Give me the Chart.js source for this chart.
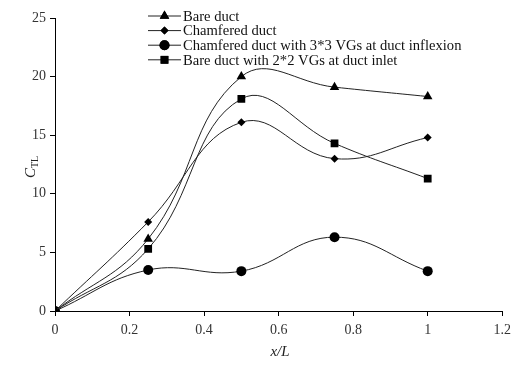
<!DOCTYPE html>
<html><head><meta charset="utf-8">
<script src="https://cdn.jsdelivr.net/npm/chart.js@4/dist/chart.umd.min.js"></script>
<style>html,body{margin:0;padding:0;background:#fff}#w{width:517px;height:370px}</style>
</head><body><div id="w"><canvas id="c" width="517" height="370"></canvas></div>
<script>
const xValues = [0, 0.25, 0.5, 0.75, 1];
const bareDuct = [0, 6.15, 20.0, 19.1, 18.3];
const chamferedDuct = [0, 7.6, 16.1, 13.0, 14.8];
const chamferedVG = [0, 3.5, 3.4, 6.3, 3.4];
const bareVG = [0, 5.3, 18.1, 14.3, 11.3];
const seriesLabels = ['Bare duct', 'Chamfered duct', 'Chamfered duct with 3*3 VGs at duct inflexion', 'Bare duct with 2*2 VGs at duct inlet'];
const xTicks = [0, 0.2, 0.4, 0.6, 0.8, 1, 1.2];
const yTicks = [0, 5, 10, 15, 20, 25];

const FONT = '"Liberation Serif", "DejaVu Serif", serif';
function mk(label, vals, style, r) {
  return {label, data: xValues.map((x,i)=>({x, y: vals[i]})), borderColor:'#222', borderWidth:1,
    pointStyle: style, pointRadius: r, pointHoverRadius: r, pointBackgroundColor:'#000', pointBorderColor:'#000',
    pointBorderWidth: 0, tension: 0.42, fill:false};
}
const datasets = [
  mk(seriesLabels[0], bareDuct, 'triangle', 5.5),
  mk(seriesLabels[1], chamferedDuct, 'rectRot', 4),
  mk(seriesLabels[2], chamferedVG, 'circle', 5),
  mk(seriesLabels[3], bareVG, 'rect', 5.5)
];

const legendPlugin = {
  id: 'vlegend',
  afterDraw(chart) {
    const ctx = chart.ctx;
    ctx.save();
    const x0 = 148, x1 = 181, y0 = 16, dy = 14.6;
    chart.data.datasets.forEach((ds, i) => {
      const y = y0 + i * dy;
      ctx.strokeStyle = '#222'; ctx.lineWidth = 1;
      ctx.beginPath(); ctx.moveTo(x0, y); ctx.lineTo(x1, y); ctx.stroke();
      ctx.fillStyle = '#000'; ctx.strokeStyle = '#000';
      Chart.helpers.drawPoint(ctx, {pointStyle: ds.pointStyle, radius: ds.pointRadius, borderWidth: 0}, (x0+x1)/2, y);
      ctx.fill();
      ctx.fillStyle = '#111';
      ctx.font = '14.6px ' + FONT;
      ctx.textBaseline = 'middle'; ctx.textAlign = 'left';
      ctx.fillText(ds.label, x1 + 2, y + 1);
    });
    // axis titles
    ctx.fillStyle = '#222';
    ctx.save();
    ctx.translate(31, 168);
    ctx.rotate(-Math.PI/2);
    ctx.textBaseline = 'middle'; ctx.textAlign = 'left';
    ctx.font = 'italic 15px ' + FONT;
    ctx.fillText('C', -10, 0);
    const w = ctx.measureText('C').width;
    ctx.font = '10px ' + FONT;
    ctx.fillText('TL', -10 + w, 4);
    ctx.restore();
    ctx.font = 'italic 15px ' + FONT;
    ctx.textAlign = 'center'; ctx.textBaseline = 'middle';
    ctx.fillText('x/L', 280, 352);
    ctx.restore();
  }
};

new Chart(document.getElementById('c'), {
  type: 'line',
  data: { datasets },
  options: {
    responsive: false, animation: false,
    layout: { padding: { top: 18, right: 12, left: 0, bottom: 0 } },
    plugins: { legend: { display: false }, tooltip: { enabled: false } },
    scales: {
      x: {
        type: 'linear', min: 0, max: 1.2,
        afterBuildTicks(s) { s.ticks = xTicks.map(v => ({value: v})); },
        afterFit(s) { s.height = 59; },
        grid: { display: true, drawOnChartArea: false, drawTicks: true, tickLength: 5, color: '#000' },
        border: { display: true, color: '#000', width: 1 },
        ticks: { color: '#333', font: { family: FONT, size: 14 }, padding: 6, maxRotation: 0,
          callback: v => String(Math.round(v*10)/10) }
      },
      y: {
        min: 0, max: 25,
        afterBuildTicks(s) { s.ticks = yTicks.map(v => ({value: v})); },
        afterFit(s) { s.width = 55; },
        grid: { display: true, drawOnChartArea: false, drawTicks: true, tickLength: 5, color: '#000' },
        border: { display: true, color: '#000', width: 1 },
        ticks: { color: '#333', font: { family: FONT, size: 14 }, padding: 4 }
      }
    }
  },
  plugins: [legendPlugin]
});
</script>
</body></html>
